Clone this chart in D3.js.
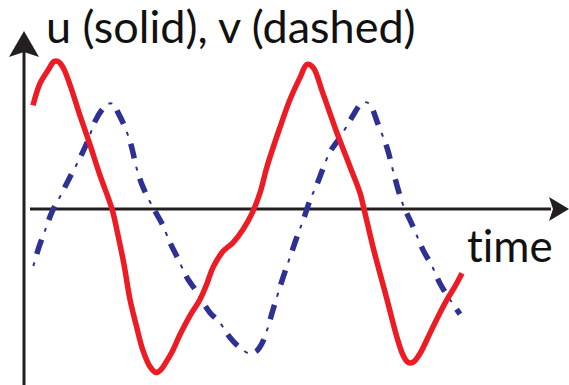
<!DOCTYPE html>
<html>
<head>
<meta charset="utf-8">
<script src="https://cdn.jsdelivr.net/npm/d3@7"></script>
<style>
  body { margin: 0; background: #fff; }
  text { font-family: Lato, "Open Sans", sans-serif; fill: #111; font-variant-ligatures: none; }
</style>
</head>
<body>
<div id="chart-area"></div>
<script>
// u (solid) curve
let uTime = [0.6, 2, 3.6, 4.8, 5.6, 6.6, 8, 10, 12, 14, 16.4, 17.6, 18.8, 20, 21.2, 22.6, 24, 25.2, 26.2, 27.2,
    28.4, 30, 32, 34, 35.4, 36.6, 38.6, 40.6, 42.6, 44.4, 46, 47.4, 50, 52, 54, 55.4, 56.6, 58.6, 61.4, 64,
    66, 66.8, 68.6, 71.4, 73.4, 74.6, 75.6, 76.6, 78, 80, 82, 83.4, 85, 86.4];
let uValue = [0.71, 0.86, 0.95, 1.01, 1.01, 0.97, 0.85, 0.64, 0.44, 0.23, 0, -0.18, -0.38, -0.62, -0.79, -0.97, -1.08, -1.12, -1.10, -1.05,
    -0.98, -0.86, -0.73, -0.62, -0.51, -0.40, -0.29, -0.23, -0.14, -0.03, 0.11, 0.29, 0.56, 0.75, 0.90, 0.99, 0.97, 0.79, 0.52, 0.29,
    0.11, 0, -0.26, -0.62, -0.88, -1.00, -1.05, -1.05, -0.99, -0.85, -0.71, -0.62, -0.53, -0.44];

// v (dashed) curve
let vTime = [0.6, 1.8, 3.2, 4.4, 6.4, 8, 10, 11.6, 13, 14.4, 15.6, 16.6, 17.6, 19, 20.2, 21.4, 22.6, 24.6, 26.4, 28,
    29.6, 31.4, 33.4, 34.6, 36, 38, 40, 42, 44, 45.4, 46.4, 47.4, 48.6, 50.6, 52, 53.4, 54.6, 56, 57.4, 60,
    62, 64.6, 66.2, 67.4, 68.4, 69.4, 71.4, 73, 74.6, 76.6, 78.6, 80.4, 82, 83.6, 86];
let vValue = [-0.40, -0.26, -0.13, -0.02, 0.11, 0.22, 0.35, 0.47, 0.60, 0.68, 0.72, 0.72, 0.66, 0.56, 0.44, 0.27, 0.15, 0.01, -0.10, -0.23,
    -0.34, -0.47, -0.57, -0.64, -0.71, -0.78, -0.88, -0.95, -0.99, -0.97, -0.92, -0.83, -0.69, -0.47, -0.33, -0.19, -0.08, 0.06, 0.17, 0.39,
    0.49, 0.64, 0.72, 0.73, 0.69, 0.60, 0.42, 0.21, 0.03, -0.12, -0.28, -0.39, -0.51, -0.60, -0.72];

let titleText = "u (solid), v (dashed)";
let xLabelText = "time";

let width = 569, height = 385;

let svg = d3.select("#chart-area").append("svg")
    .attr("width", width)
    .attr("height", height);

// scales: time 0..107 over the x axis, value 0 sits on the axis
let x = d3.scaleLinear().domain([0, 107]).range([30, 565]);
let y = d3.scaleLinear().domain([-1, 1]).range([355, 63]);

let uData = uTime.map((t, i) => ({t: t, v: uValue[i]}));
let vData = vTime.map((t, i) => ({t: t, v: vValue[i]}));

let line = d3.line()
    .x(d => x(d.t))
    .y(d => y(d.v))
    .curve(d3.curveCatmullRom.alpha(0.5));

let axisColor = "#231f20";

// x axis
svg.append("line")
    .attr("x1", x(0)).attr("x2", x.range()[1] - 14)
    .attr("y1", y(0)).attr("y2", y(0))
    .style("stroke", axisColor).style("stroke-width", 3);

// y axis
let yAxisX = 24;
svg.append("line")
    .attr("x1", yAxisX).attr("x2", yAxisX)
    .attr("y1", height).attr("y2", 50)
    .style("stroke", axisColor).style("stroke-width", 3);

// arrowheads (notched)
function arrowHead(tipX, tipY, dir, len, half, notch) {
    let pts;
    if (dir === "up") {
        pts = [[tipX, tipY], [tipX + half, tipY + len], [tipX, tipY + len - notch], [tipX - half, tipY + len]];
    } else {
        pts = [[tipX, tipY], [tipX - len, tipY + half], [tipX - len + notch, tipY], [tipX - len, tipY - half]];
    }
    svg.append("path")
        .attr("d", "M" + pts.map(p => p.join(",")).join("L") + "Z")
        .style("fill", axisColor);
}
arrowHead(yAxisX, 31, "up", 26, 15, 5);
arrowHead(569, y(0), "right", 20, 12, 4);

// v: dash-dot, thick dashes and thin short ticks
svg.append("path")
    .datum(vData)
    .attr("d", line)
    .style("fill", "none")
    .style("stroke", "#2e3192")
    .style("stroke-width", 5.5)
    .style("stroke-dasharray", "15 21")
    .style("stroke-dashoffset", 22);

svg.append("path")
    .datum(vData)
    .attr("d", line)
    .style("fill", "none")
    .style("stroke", "#2e3192")
    .style("stroke-width", 2)
    .style("stroke-dasharray", "0 23.5 4 8.5")
    .style("stroke-dashoffset", 22);

// u: solid red
svg.append("path")
    .datum(uData)
    .attr("d", line)
    .style("fill", "none")
    .style("stroke", "#ed1c24")
    .style("stroke-width", 5.5)
    .style("stroke-linejoin", "round");

// labels
svg.append("text")
    .attr("x", 46)
    .attr("y", 43)
    .style("font-size", "45px")
    .text(titleText);

svg.append("text")
    .attr("x", 467)
    .attr("y", 262)
    .style("font-size", "44px")
    .text(xLabelText);
</script>
</body>
</html>
